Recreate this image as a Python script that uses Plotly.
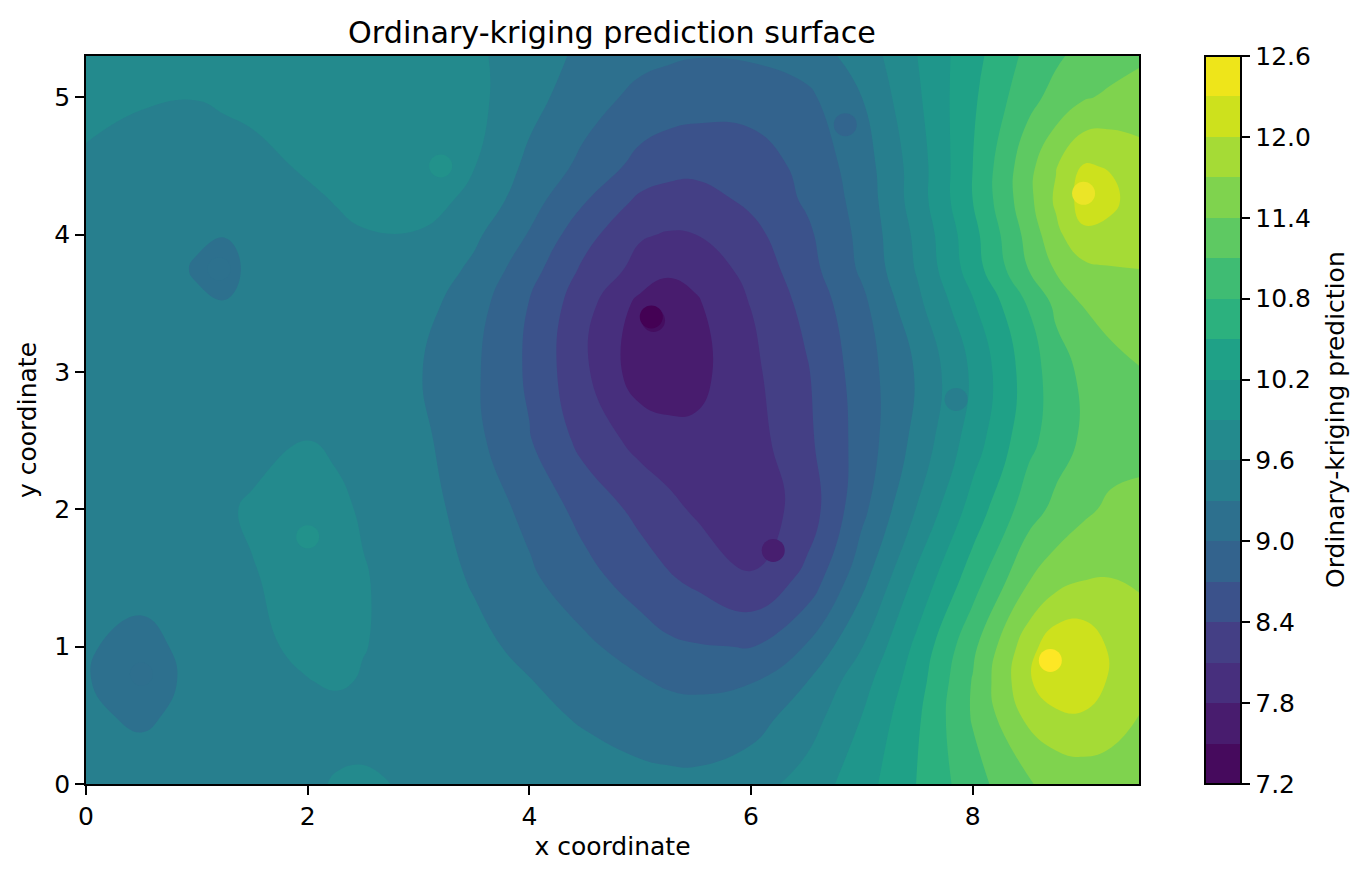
import plotly.graph_objects as go

# grid the surface was read on (denser round the small blobs and the peaks)
grid_x = [0, 0.5, 1, 1.25, 1.5, 2, 2.25, 2.5, 3, 3.5, 4, 4.5, 5, 5.25, 5.5, 6, 6.5, 7, 7.5, 8, 8.5, 8.75, 9, 9.25, 9.5]
grid_y = [0, 0.5, 0.75, 1, 1.5, 2, 2.5, 3, 3.5, 3.75, 4, 4.25, 4.5, 5, 5.3]

z_y000 = [9.42, 9.42, 9.43, 9.45, 9.46, 9.55, 9.62, 9.65, 9.55, 9.49, 9.45, 9.41, 9.37, 9.36, 9.36, 9.47, 9.72, 10.07, 10.51, 10.98, 11.38, 11.48, 11.53, 11.53, 11.5]
z_y050 = [9.34, 9.26, 9.37, 9.4, 9.44, 9.48, 9.5, 9.47, 9.45, 9.43, 9.36, 9.27, 9.18, 9.14, 9.12, 9.17, 9.44, 9.9, 10.45, 11.13, 11.78, 11.93, 11.96, 11.85, 11.7]
z_y075 = [9.32, 9.12, 9.4, 9.44, 9.47, 9.59, 9.64, 9.58, 9.5, 9.42, 9.31, 9.18, 9.03, 8.95, 8.92, 8.98, 9.29, 9.78, 10.37, 11.12, 11.95, 12.28, 12.3, 11.93, 11.8]
z_y100 = [9.33, 9.2, 9.4, 9.46, 9.52, 9.68, 9.68, 9.61, 9.5, 9.38, 9.22, 9.06, 8.86, 8.76, 8.72, 8.69, 9.02, 9.59, 10.28, 11.03, 11.88, 12.2, 12.2, 11.95, 11.85]
z_y150 = [9.4, 9.42, 9.47, 9.52, 9.58, 9.72, 9.7, 9.62, 9.46, 9.27, 9.05, 8.8, 8.55, 8.43, 8.33, 8.12, 8.48, 9.2, 9.97, 10.65, 11.37, 11.57, 11.68, 11.7, 11.66]
z_y200 = [9.42, 9.43, 9.48, 9.56, 9.64, 9.75, 9.66, 9.57, 9.42, 9.18, 8.92, 8.59, 8.32, 8.18, 8.06, 7.92, 8.22, 8.92, 9.62, 10.32, 10.96, 11.18, 11.34, 11.46, 11.47]
z_y250 = [9.42, 9.43, 9.45, 9.47, 9.5, 9.6, 9.56, 9.5, 9.38, 9.08, 8.72, 8.3, 8.0, 7.93, 7.87, 7.97, 8.33, 8.82, 9.4, 10.05, 10.71, 10.95, 11.15, 11.26, 11.32]
z_y300 = [9.45, 9.45, 9.47, 9.47, 9.5, 9.5, 9.49, 9.45, 9.32, 9.05, 8.65, 8.15, 7.63, 7.58, 7.7, 8.03, 8.37, 8.85, 9.33, 9.95, 10.65, 10.95, 11.17, 11.3, 11.38]
z_y350 = [9.44, 9.43, 9.33, 9.31, 9.36, 9.48, 9.5, 9.52, 9.42, 9.13, 8.69, 8.21, 7.72, 7.63, 7.76, 8.11, 8.49, 8.93, 9.53, 10.17, 10.82, 11.17, 11.42, 11.52, 11.6]
z_y375 = [9.44, 9.42, 9.28, 9.2, 9.37, 9.5, 9.52, 9.54, 9.52, 9.24, 8.82, 8.34, 8.0, 7.86, 7.9, 8.2, 8.58, 9.05, 9.63, 10.35, 11.1, 11.43, 11.62, 11.68, 11.7]
z_y400 = [9.44, 9.42, 9.33, 9.31, 9.36, 9.52, 9.55, 9.58, 9.58, 9.36, 8.98, 8.5, 8.13, 8.08, 8.1, 8.31, 8.64, 9.08, 9.67, 10.4, 11.2, 11.62, 11.95, 11.92, 11.78]
z_y425 = [9.48, 9.44, 9.42, 9.43, 9.46, 9.56, 9.61, 9.68, 9.72, 9.53, 9.12, 8.72, 8.34, 8.27, 8.27, 8.46, 8.74, 9.11, 9.75, 10.5, 11.31, 11.75, 12.13, 12.06, 11.87]
z_y450 = [9.56, 9.47, 9.5, 9.51, 9.53, 9.63, 9.68, 9.74, 9.85, 9.61, 9.23, 8.92, 8.6, 8.52, 8.49, 8.53, 8.79, 9.15, 9.75, 10.5, 11.3, 11.68, 12.02, 11.98, 11.83]
z_y500 = [9.68, 9.63, 9.605, 9.63, 9.66, 9.75, 9.79, 9.82, 9.83, 9.68, 9.4, 9.13, 8.92, 8.86, 8.83, 8.84, 8.93, 9.3, 9.85, 10.45, 11.0, 11.2, 11.37, 11.45, 11.52]
z_y530 = [9.75, 9.76, 9.8, 9.81, 9.82, 9.85, 9.85, 9.85, 9.82, 9.66, 9.43, 9.24, 9.08, 9.04, 9.01, 9.03, 9.15, 9.42, 9.9, 10.4, 10.88, 11.05, 11.2, 11.28, 11.35]

# sample locations
pts_x = [0.5, 1.2, 2, 3.2, 6.85, 7.85, 6.2, 5.12, 5.1, 9, 8.7]
pts_y = [0.8, 3.75, 1.8, 4.5, 4.8, 2.8, 1.7, 3.375, 3.4, 4.3, 0.9]
pts_z = [9.15, 9.2, 9.95, 9.95, 8.95, 9.5, 7.65, 7.4, 7.2, 12.45, 12.6]

band_colors = ['#460a5d', '#481c6e', '#472f7d', '#443f85', '#3b528b', '#33638d', '#2d708e', '#277f8e', '#238a8d',
               '#1f968b', '#1fa187', '#2cb17e', '#3fbc73', '#5ec962', '#7fd34e', '#a5db36', '#cde11d', '#eee51a']

z_min = 7.2
z_max = 12.6
step = 0.3
FONT = 'DejaVu Sans'

# 19 slots in plotly's fill map, hard steps so every band gets exactly one colour
colorscale = []
for i, c in enumerate(band_colors):
    lo = 0 if i == 0 else (i + 0.5) / 19
    hi = 1 if i == len(band_colors) - 1 else (i + 1.5) / 19
    colorscale.append([lo, c])
    colorscale.append([hi, c])

z_rows = [z_y000, z_y050, z_y075, z_y100, z_y150, z_y200, z_y250, z_y300,
          z_y350, z_y375, z_y400, z_y425, z_y450, z_y500, z_y530]

surface = go.Contour(
    x=grid_x,
    y=grid_y,
    z=z_rows,
    zmin=z_min,
    zmax=z_max,
    colorscale=colorscale,
    contours=dict(start=z_min, end=z_max, size=step, coloring='fill', showlines=False),
    line=dict(width=0, smoothing=1.3),
    colorbar=dict(
        x=1.0627, xanchor='left', y=0, yanchor='bottom', len=1, lenmode='fraction',
        thickness=36, thicknessmode='pixels', xpad=0, ypad=0,
        tick0=z_min, dtick=0.6, tickformat='.1f',
        ticks='outside', ticklen=8.75, tickwidth=2, tickcolor='black',
        outlinecolor='black', outlinewidth=2,
        tickfont=dict(family=FONT, size=25, color='black'),
    ),
)

samples = go.Scatter(
    x=pts_x,
    y=pts_y,
    mode='markers',
    marker=dict(size=23, color=pts_z, colorscale='Viridis', cmin=z_min, cmax=z_max,
                showscale=False, line=dict(width=0)),
    showlegend=False,
)

axis_style = dict(
    showgrid=False, zeroline=False, showline=True, mirror=True,
    linecolor='black', linewidth=2,
    ticks='outside', ticklen=8.75, tickwidth=2, tickcolor='black',
    tickfont=dict(family=FONT, size=25, color='black'),
)

fig = go.Figure(data=[surface, samples])
fig.update_layout(
    width=1366,
    height=877,
    margin=dict(l=86, r=227, t=56, b=93),
    paper_bgcolor='white',
    plot_bgcolor='white',
    font=dict(family=FONT, color='black'),
    title=dict(text='Ordinary-kriging prediction surface', x=612 / 1366, xanchor='center',
               y=1 - 32 / 877, yanchor='middle', font=dict(family=FONT, size=30.2, color='black')),
    xaxis=dict(range=[0, 9.5], tick0=0, dtick=2,
               title=dict(text='x coordinate', standoff=8, font=dict(family=FONT, size=25, color='black')),
               **axis_style),
    yaxis=dict(range=[0, 5.3], tick0=0, dtick=1,
               title=dict(text='y coordinate', standoff=11, font=dict(family=FONT, size=25, color='black')),
               **axis_style),
    # colorbar title as annotation, plotly's own sits too close to the tick labels
    annotations=[dict(text='Ordinary-kriging prediction', xref='paper', yref='paper',
                      x=(1335 - 86) / 1053, y=0.5, xanchor='center', yanchor='middle',
                      textangle=-90, showarrow=False,
                      font=dict(family=FONT, size=25, color='black'))],
)

fig.write_html("out.html", config={'displayModeBar': False},
               post_script="document.body.style.margin='0';")
